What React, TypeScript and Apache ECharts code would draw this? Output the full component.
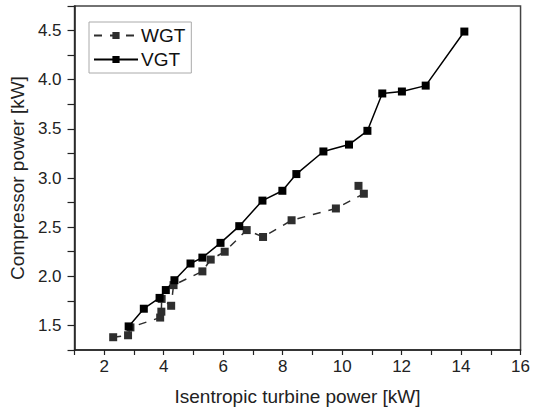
import React, { useEffect, useRef } from "react";
import * as echarts from "echarts";

const wgtX = [2.3, 2.8, 2.88, 3.88, 3.92, 3.93, 4.25, 4.33, 5.3, 5.58, 6.05, 6.79, 7.34, 8.3, 9.79, 10.73, 10.55];
const wgtY = [1.38, 1.4, 1.48, 1.58, 1.64, 1.77, 1.7, 1.91, 2.05, 2.17, 2.25, 2.47, 2.4, 2.57, 2.69, 2.84, 2.92];
const vgtX = [2.82, 3.33, 3.86, 4.07, 4.36, 4.9, 5.3, 5.91, 6.54, 7.32, 7.99, 8.46, 9.37, 10.23, 10.85, 11.35, 12.01, 12.81, 14.11];
const vgtY = [1.49, 1.67, 1.78, 1.86, 1.96, 2.13, 2.19, 2.34, 2.51, 2.77, 2.87, 3.04, 3.27, 3.34, 3.48, 3.86, 3.88, 3.94, 4.49];
const xTickLabels = ["2", "4", "6", "8", "10", "12", "14", "16"];
const yTickLabels = ["1.5", "2.0", "2.5", "3.0", "3.5", "4.0", "4.5"];

const FONT = "'Liberation Sans', Arial, sans-serif";

export default function App() {
  const ref = useRef<HTMLDivElement>(null);
  useEffect(() => {
    if (!ref.current) return;
    const chart = echarts.init(ref.current, undefined, { renderer: "svg" });
    const fmtX = (v: number) => {
      const s = String(Math.round(v));
      return xTickLabels.includes(s) ? s : "";
    };
    const fmtY = (v: number) => {
      const s = v.toFixed(1);
      return Math.abs(v * 2 - Math.round(v * 2)) < 1e-6 && yTickLabels.includes(s) ? s : "";
    };
    chart.setOption({
      animation: false,
      backgroundColor: "#fff",
      textStyle: { fontFamily: FONT },
      grid: {
        left: 72,
        right: 10,
        top: 6,
        bottom: 60,
        show: true,
        borderColor: "#444",
        borderWidth: 1.5,
        backgroundColor: "transparent",
      },
      legend: {
        left: 89,
        top: 22,
        orient: "vertical",
        itemWidth: 44,
        itemHeight: 9,
        itemGap: 5,
        padding: [4, 6, 4, 4],
        borderColor: "#aaa",
        borderWidth: 1,
        textStyle: { fontSize: 19, color: "#111", fontFamily: FONT, padding: [0, 0, 0, -2] },
        data: ["WGT", "VGT"],
      },
      xAxis: {
        type: "value",
        min: 1,
        max: 16,
        interval: 1,
        name: "Isentropic turbine power [kW]",
        nameLocation: "middle",
        nameGap: 37,
        nameTextStyle: { fontSize: 19, color: "#222", fontFamily: FONT },
        axisLine: { show: true, lineStyle: { color: "#222", width: 1.5 } },
        axisTick: { show: true, length: 5, inside: false, lineStyle: { color: "#222", width: 1.2 } },
        axisLabel: { formatter: fmtX, fontSize: 17, color: "#222", margin: 8, fontFamily: FONT },
        splitLine: { show: false },
      },
      yAxis: {
        type: "value",
        min: 1.25,
        max: 4.75,
        interval: 0.25,
        name: "Compressor power [kW]",
        nameLocation: "middle",
        nameGap: 47,
        nameTextStyle: { fontSize: 19, color: "#222", fontFamily: FONT },
        axisLine: { show: true, lineStyle: { color: "#222", width: 1.5 } },
        axisTick: { show: true, length: 7, inside: false, lineStyle: { color: "#222", width: 1.2 } },
        axisLabel: { formatter: fmtY, fontSize: 17, color: "#222", margin: 13, fontFamily: FONT },
        splitLine: { show: false },
      },
      series: [
        {
          name: "WGT",
          type: "line",
          data: wgtX.map((x, i) => [x, wgtY[i]]),
          symbol: "rect",
          symbolSize: 8,
          itemStyle: { color: "#2e2e2e" },
          lineStyle: { color: "#2e2e2e", width: 1.5, type: [8, 8] },
        },
        {
          name: "VGT",
          type: "line",
          data: vgtX.map((x, i) => [x, vgtY[i]]),
          symbol: "rect",
          symbolSize: 8,
          itemStyle: { color: "#000" },
          lineStyle: { color: "#000", width: 1.5, type: "solid" },
        },
      ],
    });
    return () => chart.dispose();
  }, []);
  return (
    <div
      ref={ref}
      style={{ position: "fixed", left: 0, top: 0, width: 533, height: 411, background: "#fff" }}
    />
  );
}
